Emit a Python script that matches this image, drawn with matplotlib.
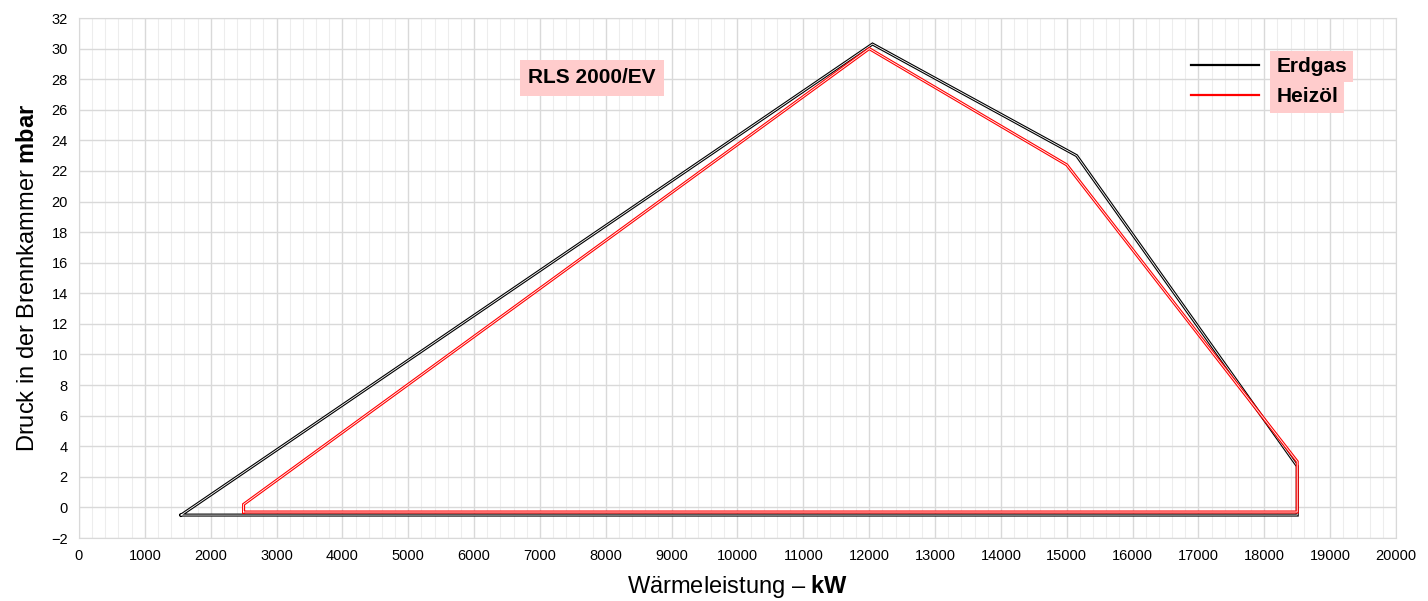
import matplotlib
matplotlib.use("Agg")
import matplotlib.pyplot as plt
import matplotlib.patheffects as pe
from matplotlib.lines import Line2D
from matplotlib.ticker import MultipleLocator

plt.rcParams['font.family'] = ['Liberation Sans', 'DejaVu Sans']
plt.rcParams['mathtext.fontset'] = 'custom'
plt.rcParams['mathtext.rm'] = 'Liberation Sans'
plt.rcParams['mathtext.bf'] = 'Liberation Sans:bold'

# working field of the burner (kW, mbar)
gas_kw = [1550, 12050, 15150, 18500, 18500, 1550]
gas_mbar = [-0.5, 30.3, 23.0, 2.7, -0.5, -0.5]
oil_kw = [2500, 2500, 12000, 15000, 18500, 18500, 2500]
oil_mbar = [-0.3, 0.2, 30.0, 22.4, 3.0, -0.3, -0.3]

series_names = ['Erdgas', 'Heizöl']
series_colors = ['#000000', '#FF0000']
model_name = 'RLS 2000/EV'

fig = plt.figure(figsize=(14.28, 6.01), dpi=100)
ax = fig.add_axes([0.0553, 0.1048, 0.9223, 0.8652])

for xs, ys, col in [(gas_kw, gas_mbar, series_colors[0]), (oil_kw, oil_mbar, series_colors[1])]:
    ax.plot(xs, ys, color='white', lw=0.6, solid_joinstyle='miter', zorder=3,
            path_effects=[pe.Stroke(linewidth=2.2, foreground=col), pe.Normal()])

ax.set_xlim(0, 20000)
ax.set_ylim(-2, 32)
ax.xaxis.set_major_locator(MultipleLocator(1000))
ax.xaxis.set_minor_locator(MultipleLocator(200))
ax.yaxis.set_major_locator(MultipleLocator(2))
ax.grid(which='major', color='#D9D9D9', lw=1.0, zorder=0)
ax.grid(which='minor', axis='x', color='#EDEDED', lw=0.8, zorder=0)
ax.set_axisbelow(True)
ax.tick_params(which='both', length=0, labelsize=10.5, pad=8)
for s in ax.spines.values():
    s.set_color('#D9D9D9')

ax.set_xlabel('Wärmeleistung – $\\mathbf{kW}$', fontsize=17, labelpad=7)
ax.set_ylabel('Druck in der Brennkammer $\\mathbf{mbar}$', fontsize=17, labelpad=9)

ax.text(7790, 28.1, model_name, fontsize=15, fontweight='bold', ha='center', va='center',
        bbox=dict(boxstyle='square,pad=0.4', fc='#FFCCCC', ec='none'), zorder=5)

handles = [Line2D([], [], color=c, lw=1.6) for c in series_colors]
leg = ax.legend(handles, series_names, loc='upper left', bbox_to_anchor=(0.8299, 0.9615),
                frameon=False, fontsize=15, handlelength=3.3, handletextpad=0.8,
                labelspacing=0.55)
for t in leg.get_texts():
    t.set_fontweight('bold')
    t.set_bbox(dict(boxstyle='square,pad=0.3', fc='#FFCCCC', ec='none'))

fig.savefig('out.png', dpi=100)
